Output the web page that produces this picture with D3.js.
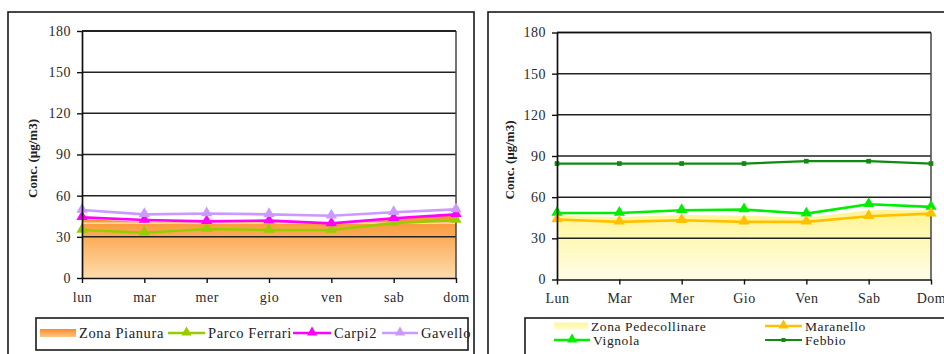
<!DOCTYPE html>
<html>
<head>
<meta charset="utf-8">
<script src="https://cdn.jsdelivr.net/npm/d3@7"></script>
<style>
  html, body { margin: 0; padding: 0; background: #fff; }
  svg text { font-family: "Liberation Serif", "DejaVu Serif", serif; }
</style>
</head>
<body>
<svg id="chart" width="944" height="354"></svg>
<script>
// Weekly profile of PM10 concentration per station (µg/m3)
const daysPianura = ["lun", "mar", "mer", "gio", "ven", "sab", "dom"];
const daysPede = ["Lun", "Mar", "Mer", "Gio", "Ven", "Sab", "Dom"];
const yTicks = [0, 30, 60, 90, 120, 150, 180];

// Plain zone (area) and its stations
const zonaPianura = [43, 41, 41, 41, 40, 44, 46];
const parcoFerrari = [35, 33, 35.7, 35, 35, 40, 42.3];
const carpi2 = [44.2, 42.3, 41.3, 41.8, 39.8, 43.5, 46.4];
const gavello = [49.6, 46.4, 47, 46.4, 45.4, 47.9, 50];

// Foothill zone (area) and its stations
const zonaPedecollinare = [46.5, 45.5, 47, 46.5, 45, 50.5, 50.5];
const maranello = [43.7, 42, 43.2, 42, 42, 46.1, 48];
const vignola = [48.5, 48.5, 50.5, 51, 48, 54.8, 52.9];
const febbio = [84.5, 84.5, 84.5, 84.5, 86.2, 86.2, 84.5];

const FONT = "'Liberation Serif', 'DejaVu Serif', serif";
const svg = d3.select("#chart");
const defs = svg.append("defs");

function gradient(id, top, bottom, y1, y2, units) {
  const g = defs.append("linearGradient").attr("id", id)
    .attr("x1", 0).attr("x2", 0);
  if (units) {
    g.attr("gradientUnits", "userSpaceOnUse").attr("y1", y1).attr("y2", y2);
  } else {
    g.attr("y1", 0).attr("y2", 1);
  }
  g.append("stop").attr("offset", "0%").attr("stop-color", top);
  g.append("stop").attr("offset", "100%").attr("stop-color", bottom);
}
gradient("gPianura", "#fa8c24", "#fedcab", 210, 278, true);
gradient("gPede", "#fff593", "#fffde8", 210, 280, true);
gradient("gPianuraKey", "#fa8c24", "#fdc688", 0, 0, false);
gradient("gPedeKey", "#fff6a0", "#fffbd0", 0, 0, false);

function panel(cfg) {
  // outer frame
  svg.append("rect")
    .attr("x", cfg.frame[0]).attr("y", cfg.frame[1])
    .attr("width", cfg.frame[2]).attr("height", cfg.frame[3])
    .attr("fill", "none").attr("stroke", "#1a1a1a").attr("stroke-width", 1.6);

  const x = d3.scalePoint().domain(cfg.days).range([cfg.x0, cfg.x1]).padding(0);
  const y = d3.scaleLinear().domain([0, 180]).range([cfg.yb, cfg.yt]);
  const g = svg.append("g");

  // zone area
  const area = d3.area().x((d, i) => x(cfg.days[i])).y0(y(0)).y1(d => y(d));
  g.append("path").datum(cfg.area).attr("d", area).attr("fill", cfg.areaFill);

  if (cfg.limit) {
    g.append("line").attr("x1", cfg.x0).attr("x2", cfg.x1)
      .attr("y1", y(cfg.limit)).attr("y2", y(cfg.limit))
      .attr("stroke", "#fff3e0").attr("stroke-width", 1.2).attr("opacity", 0.9);
  }

  // gridlines
  g.selectAll("line.grid").data(yTicks.filter(t => t > 0)).enter().append("line")
    .attr("x1", cfg.x0).attr("x2", cfg.x1)
    .attr("y1", d => y(d)).attr("y2", d => y(d))
    .attr("stroke", "#222").attr("stroke-width", 1.5);
  // right border of plot
  g.append("line").attr("x1", cfg.x1).attr("x2", cfg.x1)
    .attr("y1", y(180)).attr("y2", y(0))
    .attr("stroke", "#444").attr("stroke-width", 1.5);

  // series
  const line = d3.line().x((d, i) => x(cfg.days[i])).y(d => y(d));
  cfg.series.forEach(s => {
    g.append("path").datum(s.values).attr("d", line)
      .attr("fill", "none").attr("stroke", s.color).attr("stroke-width", s.width || 2.6)
      .attr("stroke-linejoin", "round");
    const sym = d3.symbol().type(s.symbol).size(s.size);
    g.selectAll(null).data(s.values).enter().append("path")
      .attr("d", sym)
      .attr("transform", (d, i) => `translate(${x(cfg.days[i])},${y(d) + (s.symbol === d3.symbolTriangle ? -0.5 : 0)})`)
      .attr("fill", s.color);
  });

  // axes
  const ya = g.append("g").attr("transform", `translate(${cfg.x0},0)`)
    .call(d3.axisLeft(y).tickValues(yTicks).tickSize(5).tickPadding(6).tickSizeOuter(0));
  const xa = g.append("g").attr("transform", `translate(0,${y(0)})`)
    .call(d3.axisBottom(x).tickSize(5).tickPadding(9).tickSizeOuter(0));
  [ya, xa].forEach(a => {
    a.attr("font-family", FONT);
    a.select(".domain").attr("stroke", "#111").attr("stroke-width", 1.7);
    a.selectAll(".tick line").attr("stroke", "#111").attr("stroke-width", 1.4);
    a.selectAll("text").attr("font-family", FONT)
      .attr("font-size", 14).attr("fill", "#2a2a2a").style("letter-spacing", "0.5px");
  });
  g.append("line").attr("x1", cfg.x0).attr("x2", cfg.x1)
    .attr("y1", y(180)).attr("y2", y(180)).attr("stroke", "#111").attr("stroke-width", 1.7);

  // y axis title
  svg.append("text")
    .attr("transform", `translate(${cfg.titleX},${(cfg.yt + cfg.yb) / 2 + 4}) rotate(-90)`)
    .attr("text-anchor", "middle").attr("font-weight", "bold").attr("font-size", 13)
    .attr("font-family", FONT).attr("fill", "#222")
    .text("Conc. (µg/m3)");

  // legend
  const L = cfg.legend;
  svg.append("rect").attr("x", L.box[0]).attr("y", L.box[1])
    .attr("width", L.box[2]).attr("height", L.box[3])
    .attr("fill", "#fff").attr("stroke", "#1a1a1a").attr("stroke-width", 1.6);
  L.items.forEach(it => {
    const lg = svg.append("g");
    if (it.swatch) {
      lg.append("rect").attr("x", it.x).attr("y", it.y - it.sh / 2)
        .attr("width", it.w).attr("height", it.sh).attr("fill", it.swatch);
    } else {
      lg.append("line").attr("x1", it.x).attr("x2", it.x + it.w)
        .attr("y1", it.y).attr("y2", it.y)
        .attr("stroke", it.color).attr("stroke-width", it.lw || 2.6);
      lg.append("path").attr("d", d3.symbol().type(it.symbol).size(it.size)())
        .attr("transform", `translate(${it.x + it.w / 2},${it.y - (it.symbol === d3.symbolTriangle ? 0.5 : 0)})`)
        .attr("fill", it.color);
    }
    lg.append("text").attr("x", it.x + it.w + 3).attr("y", it.y)
      .attr("dy", "0.35em").attr("font-size", L.fontSize).attr("fill", "#222")
      .attr("font-family", FONT)
      .style("letter-spacing", L.spacing)
      .text(it.label);
  });
}

panel({
  frame: [8, 12, 466, 360],
  days: daysPianura, x0: 82, x1: 456, yt: 31, yb: 278, titleX: 37,
  area: zonaPianura, areaFill: "url(#gPianura)", limit: 40,
  series: [
    { values: parcoFerrari, color: "#99cc00", symbol: d3.symbolTriangle, size: 55 },
    { values: carpi2, color: "#ff00ff", symbol: d3.symbolTriangle, size: 55 },
    { values: gavello, color: "#cc99ff", symbol: d3.symbolTriangle, size: 55 }
  ],
  legend: {
    box: [36, 318, 432, 32], fontSize: 14.5, spacing: "0.6px",
    items: [
      { label: "Zona Pianura", swatch: "url(#gPianuraKey)", x: 40, y: 333, w: 36, sh: 8 },
      { label: "Parco Ferrari", color: "#99cc00", symbol: d3.symbolTriangle, size: 45, x: 168, y: 333, w: 37 },
      { label: "Carpi2", color: "#ff00ff", symbol: d3.symbolTriangle, size: 45, x: 293, y: 333, w: 38 },
      { label: "Gavello", color: "#cc99ff", symbol: d3.symbolTriangle, size: 45, x: 382, y: 333, w: 36 }
    ]
  }
});

panel({
  frame: [488, 12, 480, 360],
  days: daysPede, x0: 557, x1: 931, yt: 32.5, yb: 279.5, titleX: 514,
  area: zonaPedecollinare, areaFill: "url(#gPede)",
  series: [
    { values: febbio, color: "#108a10", symbol: d3.symbolSquare, size: 22, width: 2.2 },
    { values: vignola, color: "#00ee00", symbol: d3.symbolTriangle, size: 55 },
    { values: maranello, color: "#ffc000", symbol: d3.symbolTriangle, size: 55 }
  ],
  legend: {
    box: [525, 318, 440, 50], fontSize: 13.5, spacing: "0.6px",
    items: [
      { label: "Zona Pedecollinare", swatch: "url(#gPedeKey)", x: 554, y: 326, w: 34, sh: 7 },
      { label: "Maranello", color: "#ffc000", symbol: d3.symbolTriangle, size: 45, x: 765, y: 326, w: 37 },
      { label: "Vignola", color: "#00ee00", symbol: d3.symbolTriangle, size: 45, x: 554, y: 340, w: 36 },
      { label: "Febbio", color: "#108a10", symbol: d3.symbolSquare, size: 16, x: 765, y: 340, w: 37, lw: 2.2 }
    ]
  }
});
</script>
</body>
</html>
